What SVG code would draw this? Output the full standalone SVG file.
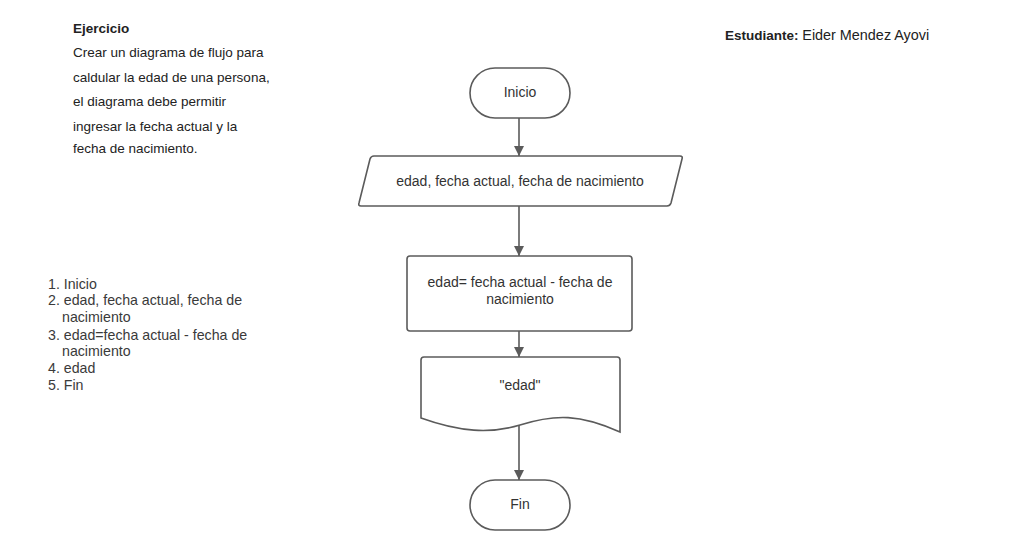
<svg xmlns="http://www.w3.org/2000/svg" width="1036" height="554" viewBox="0 0 1036 554">
<style>
.shape{fill:#fff;stroke:#5b5b5b;stroke-width:1.6}
.lbl{font-family:"Liberation Sans",Arial,sans-serif;font-size:14px;fill:#333;text-anchor:middle}
.txt{font-family:"Liberation Sans",Arial,sans-serif;font-size:13.5px;fill:#222}
.lst{font-family:"Liberation Sans",Arial,sans-serif;font-size:14.2px;fill:#3a3a3a}
.conn{stroke:#5b5b5b;stroke-width:1.6;fill:none;marker-end:url(#arr)}
</style>
<defs>
<marker id="arr" viewBox="0 0 10 10" refX="10" refY="5" markerWidth="10" markerHeight="10" markerUnits="userSpaceOnUse" orient="auto">
<path d="M0,0 L10,5 L0,10 Z" fill="#5b5b5b"/>
</marker>
</defs>
<rect width="1036" height="554" fill="#fff"/>
<g id="header">
<text class="txt" x="73" y="33" font-weight="bold">Ejercicio</text>
<text class="txt" x="73" y="57">Crear un diagrama de flujo para</text>
<text class="txt" x="73" y="82">caldular la edad de una persona,</text>
<text class="txt" x="73" y="106">el diagrama debe permitir</text>
<text class="txt" x="73" y="131">ingresar la fecha actual y la</text>
<text class="txt" x="73" y="153">fecha de nacimiento.</text>
<text class="txt" x="725" y="40" fill="#333"><tspan font-weight="bold">Estudiante:</tspan> <tspan font-size="14.4px">Eider Mendez Ayovi</tspan></text>
</g>
<g id="list">
<text class="lst" x="48" y="289">1. Inicio</text>
<text class="lst" x="48" y="305">2. edad, fecha actual, fecha de</text>
<text class="lst" x="62" y="322">nacimiento</text>
<text class="lst" x="48" y="340">3. edad=fecha actual - fecha de</text>
<text class="lst" x="62" y="356">nacimiento</text>
<text class="lst" x="48" y="373">4. edad</text>
<text class="lst" x="48" y="390">5. Fin</text>
</g>
<g id="connectors">
<line class="conn" x1="519" y1="118" x2="519" y2="156"/>
<line class="conn" x1="519" y1="206" x2="519" y2="256"/>
<line class="conn" x1="519" y1="331" x2="519" y2="357"/>
<line class="conn" x1="519" y1="425" x2="519" y2="480"/>
</g>
<g id="inicio">
<rect class="shape" x="470" y="68" width="100" height="50" rx="25" ry="25"/>
<text class="lbl" x="520" y="97">Inicio</text>
</g>
<g id="entrada">
<path class="shape" d="M374,156 L680,156 Q683,156 682,159 L671,203 Q670,206 667,206 L361,206 Q358,206 359,203 L370,159 Q371,156 374,156 Z"/>
<text class="lbl" x="520" y="186">edad, fecha actual, fecha de nacimiento</text>
</g>
<g id="proceso">
<rect class="shape" x="407" y="256" width="225" height="75" rx="3" ry="3"/>
<text class="lbl" x="520" y="287">edad= fecha actual - fecha de</text>
<text class="lbl" x="520" y="304">nacimiento</text>
</g>
<g id="salida">
<path class="shape" d="M424,357 L617,357 Q620,357 620,360 L620,432 C580,414 555,414 520,425 C490,434 460,432 421,418 L421,360 Q421,357 424,357 Z"/>
<text class="lbl" x="520" y="390">"edad"</text>
</g>
<g id="fin">
<rect class="shape" x="470" y="480" width="100" height="50" rx="25" ry="25"/>
<text class="lbl" x="520" y="509">Fin</text>
</g>
</svg>
